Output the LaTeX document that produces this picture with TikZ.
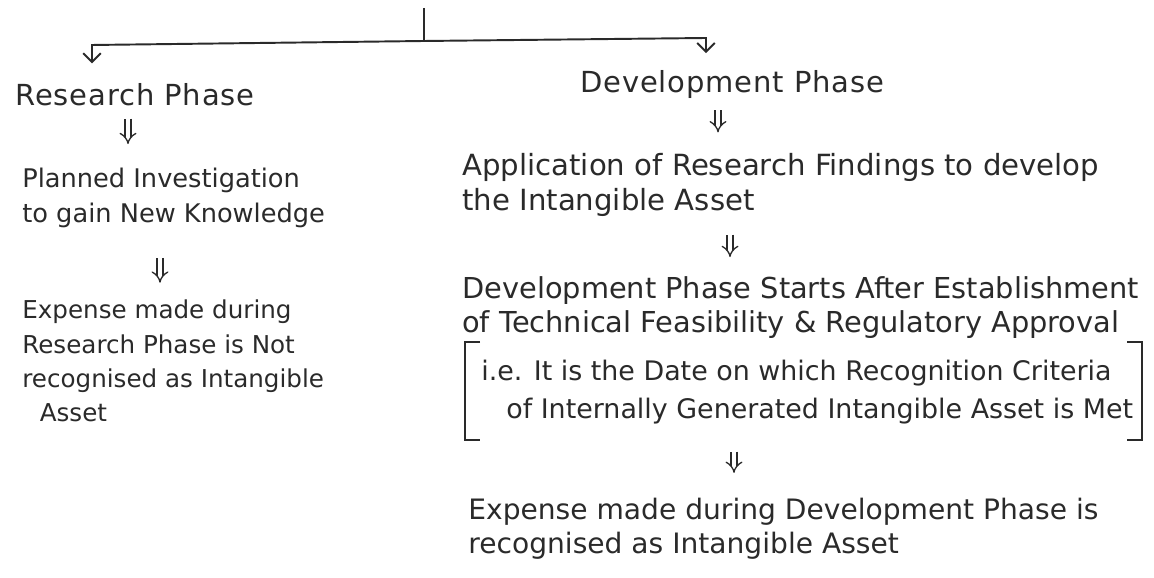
\documentclass[tikz,border=0pt]{standalone}
\usepackage{fontspec}
\setmainfont{DejaVu Sans}
\usetikzlibrary{arrows.meta, calc}
\definecolor{inkGrey}{HTML}{2A2A2A}

\begin{document}
\begin{tikzpicture}[
    head/.style={anchor=west, align=left, inner sep=0pt, text=inkGrey,
                 font=\fontsize{16.5}{20}\selectfont\addfontfeature{LetterSpace=3}},
    step text/.style={anchor=west, align=left, inner sep=0pt, text=inkGrey,
                 font=\fontsize{#1}{19.5}\selectfont},
    step text/.default=14,
    crit text/.style={anchor=west, align=left, inner sep=0pt, text=inkGrey,
                 font=\fontsize{15.3}{22}\selectfont},
    flow/.style={draw=inkGrey, line width=1.1pt,
                 -{Straight Barb[length=5pt, width=10pt]}},
    imply/.style={draw=inkGrey, line width=0.75pt, double, double distance=2.6pt,
                  -{Implies}},
  ]
  \useasboundingbox (0,0) rectangle (23.08,-11.56);

  % split at the top
  \coordinate (root) at (8.48,-0.16);
  \coordinate (split) at (8.48,-0.82);
  \coordinate (lft) at (1.84,-0.90);
  \coordinate (rgt) at (14.12,-0.76);

  % research column
  \node[head] (rp) at (0.30,-1.90) {Research Phase};
  \node[step text=14.6] (pi) at (0.44,-3.96)
    {Planned Investigation\\to gain New Knowledge};
  \node[step text] (ex1) at (0.44,-7.22)
    {Expense made during\\Research Phase is Not\\recognised as Intangible\\
     \hspace*{0.35cm}Asset};

  % development column
  \node[head] (dp) at (11.60,-1.70) {Development Phase};
  \node[step text=16.6] (app) at (9.24,-3.70)
    {Application of Research Findings to develop\\the Intangible Asset};
  \node[step text=16.4] (dps) at (9.24,-6.15)
    {Development Phase Starts After Establishment\\
     of Technical Feasibility \& Regulatory Approval};
  \node[crit text] (crit) at (9.62,-7.84)
    {i.e. It is the Date on which Recognition Criteria\\
     \hspace*{0.5cm}of Internally Generated Intangible Asset is Met};
  \node[step text=16] (ex2) at (9.36,-10.58)
    {Expense made during Development Phase is\\recognised as Intangible Asset};

  \draw[inkGrey, line width=1.1pt] (root) -- (split);
  \draw[flow, shorten >=0.4cm] (split) -- (lft) -- (lft |- rp.north);
  \draw[flow, shorten >=0.35cm] (split) -- (rgt) -- (rgt |- dp.north);

  \draw[imply, shorten <=0.24cm, shorten >=0.48cm]
    ([xshift=2.26cm]rp.south west) -- ([xshift=2.26cm]rp.south west |- pi.north);
  \draw[imply, shorten <=0.6cm, shorten >=0.34cm]
    ([xshift=2.76cm]pi.south west) -- ([xshift=2.76cm]pi.south west |- ex1.north);
  \draw[imply, shorten <=0.22cm, shorten >=0.42cm]
    ([xshift=2.76cm]dp.south west) -- ([xshift=2.76cm]dp.south west |- app.north);
  \draw[imply, shorten <=0.36cm, shorten >=0.38cm]
    ([xshift=5.36cm]app.south west) -- ([xshift=5.36cm]app.south west |- dps.north);
  \draw[imply, shorten <=0.54cm, shorten >=0.5cm]
    ([xshift=5.06cm]crit.south west) -- ([xshift=5.06cm]crit.south west |- ex2.north);

  % brackets round the criteria
  \draw[inkGrey, line width=1.1pt]
    ([shift={(-0.32,0.34)}]crit.north west) ++(0.3,0) -- ++(-0.3,0)
      |- ([shift={(-0.32,-0.30)}]crit.south west) -- ++(0.3,0);
  \draw[inkGrey, line width=1.1pt]
    ([shift={(0.18,0.34)}]crit.north east) ++(-0.3,0) -- ++(0.3,0)
      |- ([shift={(0.18,-0.30)}]crit.south east) -- ++(-0.3,0);
\end{tikzpicture}
\end{document}
